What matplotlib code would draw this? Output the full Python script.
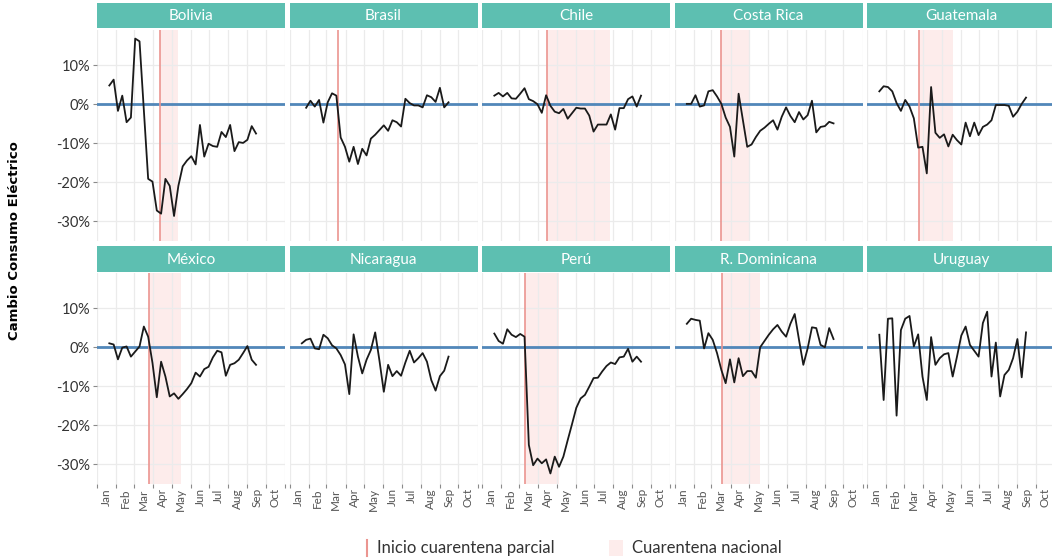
"""Weekly change in electricity consumption, small multiples by country."""

import matplotlib
matplotlib.use("Agg")
import matplotlib.dates as mdates
import matplotlib.pyplot as plt
import numpy as np
import pandas as pd
from matplotlib.lines import Line2D
from matplotlib.patches import Rectangle
from matplotlib.ticker import FuncFormatter

W, H = 1052, 560

countries = ["Bolivia", "Brasil", "Chile", "Costa Rica", "Guatemala",
             "México", "Nicaragua", "Perú", "R. Dominicana", "Uruguay"]

bolivia = [4.8, 6.3, -1.7, 2.2, -4.6, -3.4, 16.8, 16.1, -1.5, -19.1, -19.8, -27.2,
           -28.0, -19.1, -20.9, -28.6, -20.9, -15.9, -14.4, -13.3, -15.4, -5.3,
           -13.4, -10.1, -10.7, -10.9, -7.1, -8.4, -5.3, -12.0, -9.7, -9.9, -9.1,
           -5.6, -7.5]
brasil = [-0.9, 0.9, -0.6, 1.1, -4.7, 0.5, 2.8, 2.2, -8.5, -10.9, -14.7, -10.9,
          -15.3, -11.4, -13.1, -8.8, -7.8, -6.6, -5.4, -6.8, -4.1, -4.6, -5.7,
          1.4, 0.3, -0.3, -0.3, -0.8, 2.3, 1.8, 0.6, 4.2, -0.8, 0.5]
chile = [2.2, 2.9, 2.0, 2.9, 1.5, 1.4, 2.7, 4.1, 1.3, 0.8, 0.0, -2.2, 2.3, -0.4,
         -1.9, -2.3, -1.2, -3.7, -2.3, -0.9, -1.1, -1.1, -2.9, -7.0, -5.2, -5.2,
         -5.2, -2.6, -6.5, -1.0, -1.0, 1.3, 2.0, -0.6, 2.2]
costa_rica = [0.1, 0.1, 2.3, -0.6, -0.3, 3.3, 3.6, 2.0, 0.1, -3.4, -5.8, -13.4,
              2.7, -4.1, -10.9, -10.3, -8.4, -6.8, -6.0, -5.0, -4.1, -6.5, -3.2,
              -0.8, -3.0, -4.6, -2.0, -3.9, -2.8, 0.9, -7.2, -5.8, -5.6, -4.5, -4.9]
guatemala = [3.3, 4.6, 4.4, 3.3, 0.3, -1.7, 1.1, -0.6, -3.6, -11.1, -10.9, -17.7,
             4.4, -7.3, -8.6, -7.7, -10.8, -7.8, -9.2, -10.3, -4.7, -8.2, -4.7,
             -7.9, -5.8, -5.2, -4.1, -0.2, -0.2, -0.2, -0.4, -3.2, -1.9, 0.1, 1.7]
mexico = [1.0, 0.7, -3.1, -0.1, 0.2, -2.4, -1.1, 0.2, 5.3, 2.7, -4.0, -12.8, -3.7,
          -7.5, -12.6, -11.8, -13.2, -12.0, -10.7, -9.2, -6.5, -7.5, -5.6, -5.0,
          -2.6, -0.9, -1.3, -7.3, -4.5, -4.1, -3.2, -1.5, 0.3, -3.2, -4.5]
nicaragua = [1.0, 1.9, 2.2, -0.3, -0.5, 3.2, 2.3, 0.5, -0.3, -2.0, -4.4, -12.0,
             3.3, -2.4, -6.7, -3.2, -0.7, 3.8, -3.5, -11.4, -4.5, -7.4, -6.1, -7.3,
             -3.9, -0.9, -3.9, -2.8, -1.5, -3.7, -8.4, -11.1, -7.4, -6.0, -2.4]
peru = [3.5, 1.6, 0.9, 4.6, 3.2, 2.6, 3.4, 2.7, -25.0, -30.2, -28.5, -29.7, -28.7,
        -32.3, -28.0, -30.6, -28.0, -23.8, -19.7, -15.5, -13.1, -12.2, -10.1, -7.9,
        -7.8, -6.2, -4.8, -3.9, -4.3, -2.6, -2.4, -0.4, -3.7, -2.4, -3.7]
r_dominicana = [6.0, 7.3, 7.0, 6.8, -0.3, 3.6, 1.9, -1.5, -5.8, -9.2, -3.1, -9.0,
                -2.8, -7.4, -6.1, -6.1, -7.8, 0.0, 1.6, 3.2, 4.6, 5.7, 4.0, 2.7,
                6.0, 8.5, 1.9, -4.5, -0.3, 5.1, 4.9, 0.6, 0.0, 4.9, 2.1]
uruguay = [3.2, -13.5, 7.3, 7.4, -17.5, 4.4, 7.3, 8.0, 0.2, 3.3, -7.5, -13.5, 2.6,
           -4.5, -2.8, -1.8, -1.5, -7.5, -2.4, 3.0, 5.3, 0.6, -0.9, -2.4, 6.2, 9.1,
           -7.5, 1.2, -12.6, -7.1, -5.8, -2.8, 2.1, -7.7, 3.8]

series = [bolivia, brasil, chile, costa_rica, guatemala,
          mexico, nicaragua, peru, r_dominicana, uruguay]
first_week = ["2020-01-21", "2020-01-28", "2020-01-21", "2020-01-21", "2020-01-21",
              "2020-01-21", "2020-01-21", "2020-01-21", "2020-01-21", "2020-01-21"]

# start of partial quarantine / end of national quarantine (None = not shown)
partial_start = ["2020-04-13", "2020-03-19", "2020-04-16", "2020-03-17", "2020-03-25",
                 "2020-03-26", None, "2020-03-11", "2020-03-18", None]
national_end = ["2020-05-11", None, "2020-07-26", "2020-05-03", "2020-05-20",
                "2020-05-17", None, "2020-05-05", "2020-05-18", None]

y_ticks = [-30, -20, -10, 0, 10]

TEAL = "#5dbfb1"
RED = "#eb9590"
PINK = "#fdeceb"
FONT = ["Lato", "DejaVu Sans"]

plt.rcParams["font.family"] = FONT


def box(x0, y0, x1, y1):
    """Pixel box (top-left origin) to figure fraction rect."""
    return [x0 / W, 1 - y1 / H, (x1 - x0) / W, (y1 - y0) / H]


fig = plt.figure(figsize=(W / 100, H / 100), dpi=100)

col_left = [97, 289.5, 482, 674.5, 867]
panel_w = 188
rows = [(3, 28, 30, 241), (246, 272, 273, 484)]

xmin, xmax = pd.Timestamp("2020-01-01"), pd.Timestamp("2020-11-01")

for i, name in enumerate(countries):
    r, c = divmod(i, 5)
    s0, s1, p0, p1 = rows[r]
    x0 = col_left[c]

    ax = fig.add_axes(box(x0, p0, x0 + panel_w, p1))
    dates = pd.date_range(first_week[i], periods=len(series[i]), freq="7D")

    if partial_start[i] is not None and national_end[i] is not None:
        ax.axvspan(pd.Timestamp(partial_start[i]), pd.Timestamp(national_end[i]),
                   color=PINK, lw=0, zorder=0.5)
    ax.axhline(0, color="#5187b9", lw=2, zorder=2)
    if partial_start[i] is not None:
        ax.axvline(pd.Timestamp(partial_start[i]), color=RED, lw=1.2, zorder=2.5)
    ax.plot(dates, series[i], color="#1a1a1a", lw=1.3, zorder=3)

    ax.set_xlim(xmin, xmax)
    ax.set_ylim(-35, 19)
    ax.set_yticks(y_ticks)
    ax.yaxis.set_major_formatter(FuncFormatter(lambda v, _: f"{v:.0f}%"))

    ax.xaxis.set_major_locator(mdates.MonthLocator())
    ax.xaxis.set_major_formatter(plt.NullFormatter())
    ax.xaxis.set_minor_locator(mdates.MonthLocator(bymonthday=16))
    ax.xaxis.set_minor_formatter(mdates.DateFormatter("%b"))

    ax.grid(True, which="major", color="#ebebeb", lw=0.9, zorder=0)
    ax.set_axisbelow(True)
    for sp in ax.spines.values():
        sp.set_visible(False)

    ax.tick_params(axis="both", which="major", length=3, color="#8a8a8a", width=0.8)
    ax.tick_params(axis="x", which="minor", length=0, labelsize=8.5,
                   labelcolor="#555555", labelrotation=90, pad=3)
    ax.tick_params(axis="y", labelsize=10.5, labelcolor="#333333", pad=2)
    if c != 0:
        ax.tick_params(axis="y", labelleft=False, length=0)
    if r == 0:
        ax.tick_params(axis="x", which="both", labelbottom=False, length=0)

    strip = fig.add_axes(box(x0, s0, x0 + panel_w, s1))
    strip.set_facecolor(TEAL)
    strip.set_xticks([])
    strip.set_yticks([])
    for sp in strip.spines.values():
        sp.set_visible(False)
    strip.text(0.5, 0.48, name, ha="center", va="center", color="white",
               fontsize=11, transform=strip.transAxes)

fig.text(15 / W, 1 - 241 / H, "Cambio Consumo Eléctrico", rotation=90,
         ha="center", va="center", fontsize=9.5, fontweight="bold",
         family=["DejaVu Sans"], color="black")

# legend
fig.add_artist(Line2D([367 / W, 367 / W], [1 - 540 / H, 1 - 556 / H],
                      color=RED, lw=1.5, transform=fig.transFigure))
fig.text(377 / W, 1 - 548 / H, "Inicio cuarentena parcial", ha="left",
         va="center", fontsize=12, color="#333333")
fig.add_artist(Rectangle((609 / W, 1 - 556 / H), 14 / W, 16 / H,
                         color=PINK, lw=0, transform=fig.transFigure))
fig.text(632 / W, 1 - 548 / H, "Cuarentena nacional", ha="left",
         va="center", fontsize=12, color="#333333")

fig.savefig("out.png", dpi=100)
